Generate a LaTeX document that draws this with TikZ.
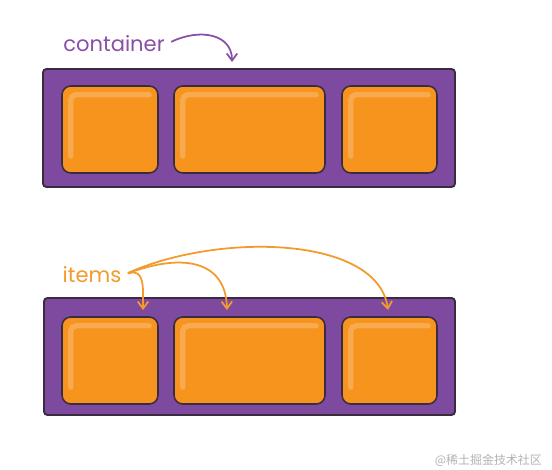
\documentclass[tikz,border=0pt]{standalone}
\usepackage{fontspec}
\setmainfont{Poppins}
\newfontfamily\cjk{Noto Sans CJK SC}
\usetikzlibrary{positioning,arrows.meta}

\definecolor{boxpurple}{HTML}{7E4A9F}
\definecolor{labelpurple}{HTML}{8A4FA8}
\definecolor{edgedark}{HTML}{3A2C3E}
\definecolor{itemorange}{HTML}{F7941D}
\definecolor{itemlight}{HTML}{F8AA50}
\definecolor{labelorange}{HTML}{F39A2B}

\tikzset{
  container/.style={draw=edgedark, fill=boxpurple, line width=1.1pt,
    rounded corners=2pt, inner sep=0pt},
  item/.style={draw=edgedark, fill=itemorange, line width=0.9pt,
    rounded corners=5pt, inner sep=0pt,
    path picture={
      \draw[itemlight, line width=3pt, line cap=round, rounded corners=3pt]
        ([xshift=5pt,yshift=-40pt]path picture bounding box.north west)
        -- ([xshift=5pt,yshift=-5pt]path picture bounding box.north west)
        -- ([xshift=-5pt,yshift=-5pt]path picture bounding box.north east);
    }},
  label/.style={font=\fontsize{12}{14}\selectfont, inner sep=1pt},
  pointer/.style={-{Straight Barb[length=4pt,width=6pt]}, line width=1pt,
    line cap=round, shorten <=3pt}
}

\begin{document}
\begin{tikzpicture}[x=0.02cm,y=-0.02cm]
  \useasboundingbox (0,0) rectangle (552,470);

  % top row
  \node[label, text=labelpurple] (lblc) at (114,44) {container};
  \node[container, minimum width=412*0.02cm, minimum height=118*0.02cm] (c1) at (249,128) {};
  \node[item, minimum width=96*0.02cm, minimum height=87*0.02cm]  (a1) at (110,129.5) {};
  \node[item, minimum width=151*0.02cm, minimum height=87*0.02cm] (a2) at (249.5,129.5) {};
  \node[item, minimum width=95*0.02cm, minimum height=87*0.02cm]  (a3) at (389.5,129.5) {};
  \coordinate (ctip) at (232,62);
  \draw[pointer, labelpurple] (lblc.east) .. controls (200,28) and (232,34) .. (ctip);

  % bottom row
  \node[label, text=labelorange] (lbli) at (92,275) {items};
  \node[container, minimum width=411*0.02cm, minimum height=117*0.02cm] (c2) at (249.5,356.5) {};
  \node[item, minimum width=96*0.02cm, minimum height=87*0.02cm]  (b1) at (110,360.5) {};
  \node[item, minimum width=151*0.02cm, minimum height=87*0.02cm] (b2) at (249.5,360.5) {};
  \node[item, minimum width=95*0.02cm, minimum height=87*0.02cm]  (b3) at (389.5,360.5) {};
  \coordinate (t1) at (143,310);
  \coordinate (t2) at (227,310);
  \coordinate (t3) at (388,310);
  \draw[pointer, labelorange] (lbli.east) .. controls (145,268) and (143,288) .. (t1);
  \draw[pointer, labelorange] (lbli.east) .. controls (185,252) and (226,262) .. (t2);
  \draw[pointer, labelorange] (lbli.east) .. controls (220,232) and (378,236) .. (t3);

  \node[text=black!30, font=\cjk\fontsize{6.8}{8}\selectfont, anchor=east] (wm) at (548,460) {@稀土掘金技术社区};
\end{tikzpicture}
\end{document}
